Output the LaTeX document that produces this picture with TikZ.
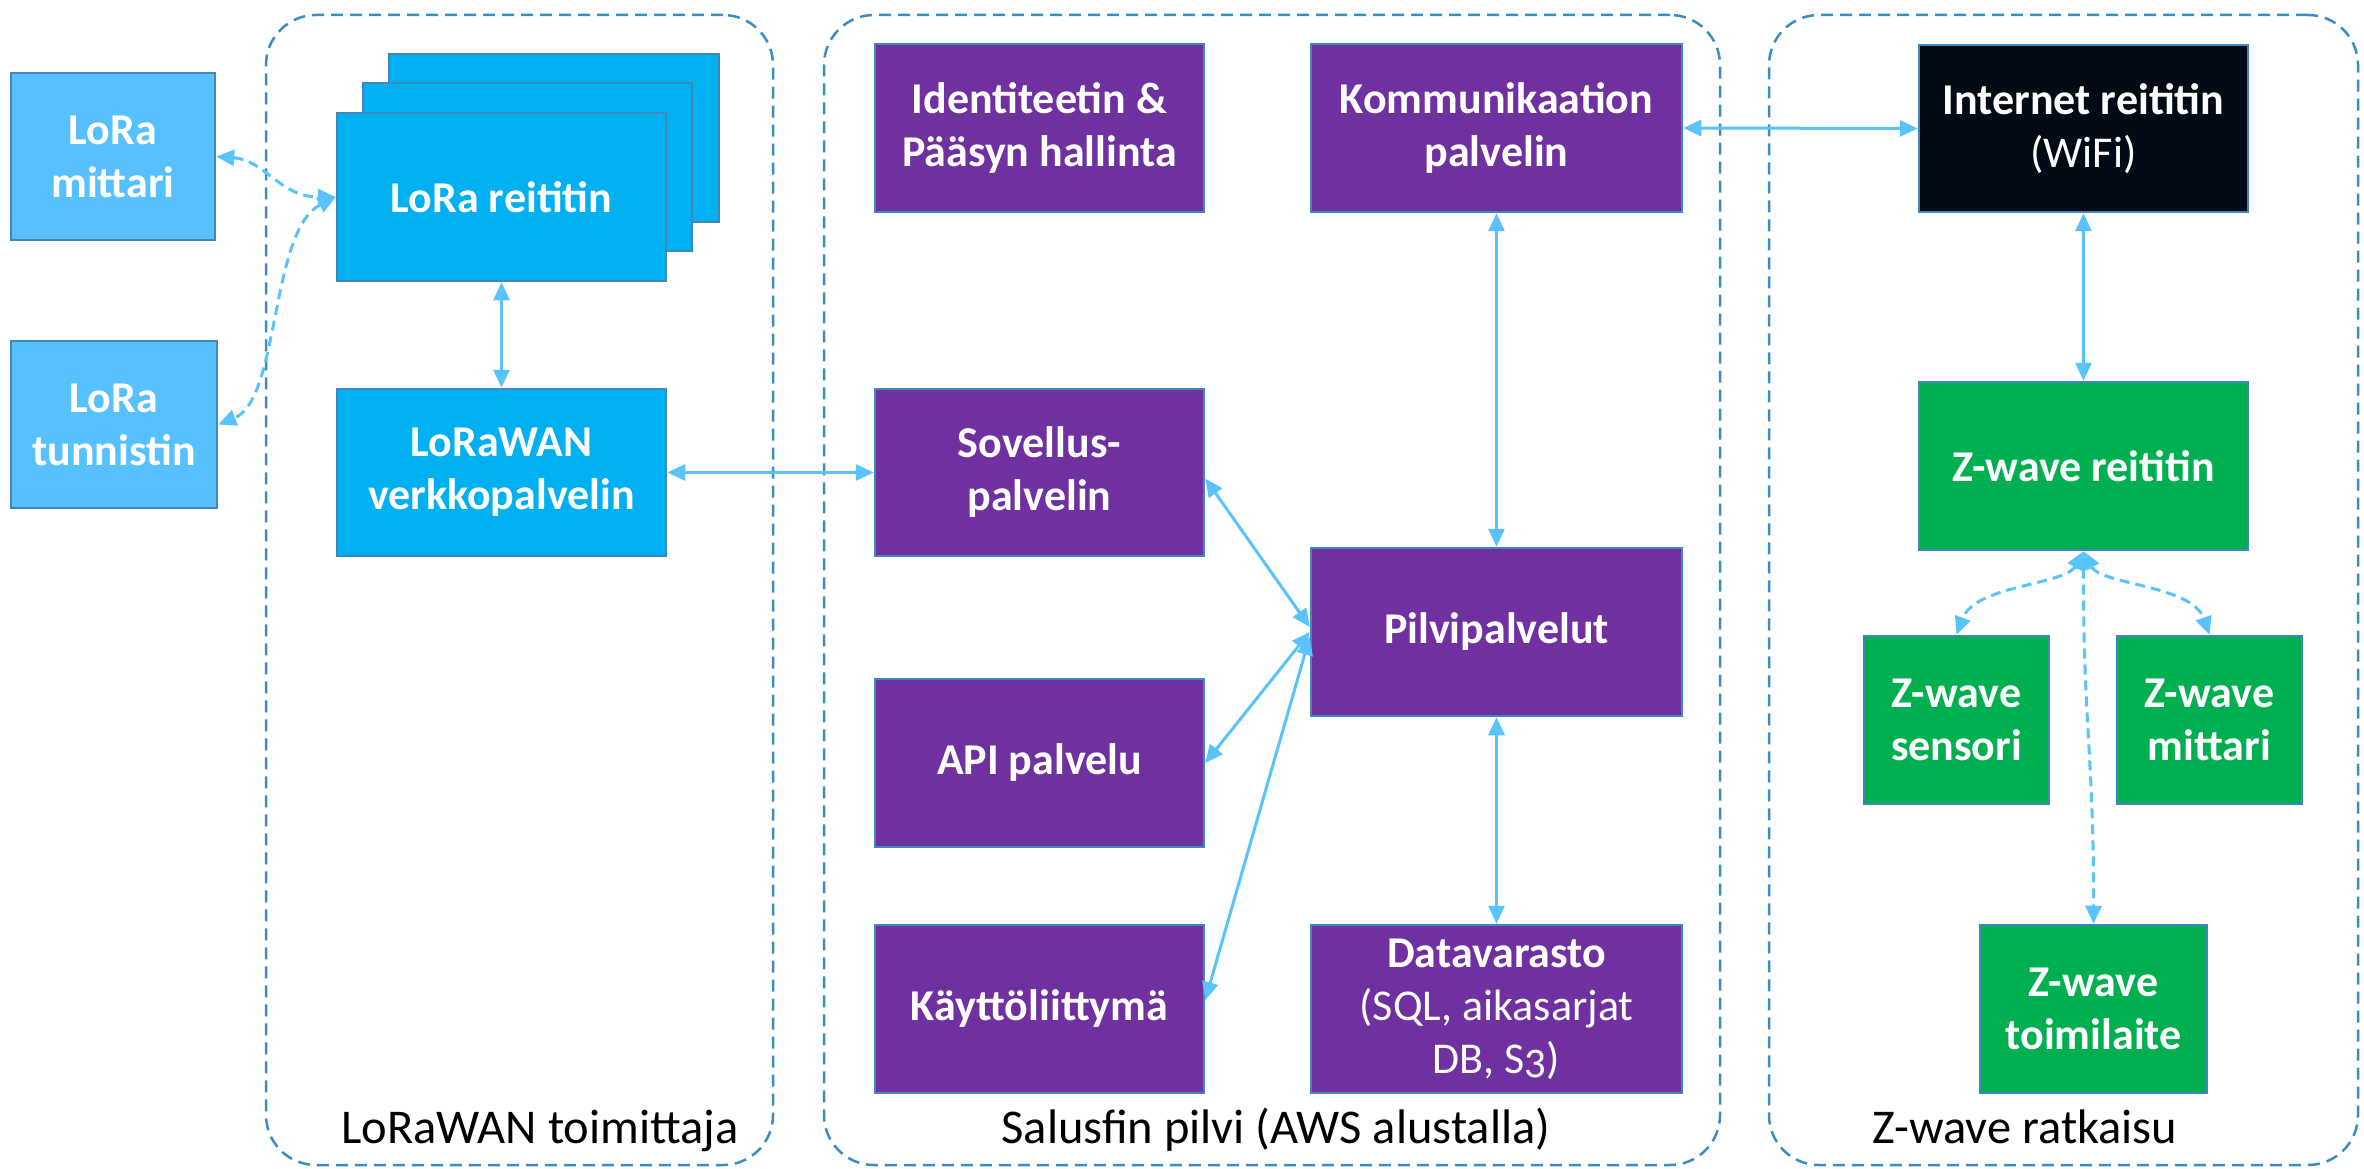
\documentclass[tikz,border=0pt]{standalone}
\usepackage{fontspec}
\setmainfont{Carlito}
\usetikzlibrary{arrows.meta}
\definecolor{lora}{HTML}{56C1FE}
\definecolor{lorar}{HTML}{00B0F0}
\definecolor{purp}{HTML}{7030A0}
\definecolor{grn}{HTML}{00B050}
\definecolor{inetc}{HTML}{020A16}
\definecolor{bordc}{HTML}{3F87BD}
\definecolor{grpc}{HTML}{3A8DC2}
\definecolor{conc}{HTML}{58C3FC}
\begin{document}
\begin{tikzpicture}[x=1pt,y=-1pt,
  box/.style={draw=bordc, line width=2.5pt, inner sep=0pt, align=center, text=white,
    font=\fontsize{44}{53}\selectfont\bfseries, minimum height=168pt},
  grp/.style={draw=grpc, line width=2.5pt, dash pattern=on 12pt off 7pt,
    rounded corners=50pt, minimum height=1150pt, inner sep=0pt},
  glabel/.style={font=\fontsize{48.5}{58}\selectfont, text=black, anchor=base, inner sep=0pt},
  conn/.style={draw=conc, line width=3pt,
    {Triangle[length=18pt,width=16pt]}-{Triangle[length=18pt,width=16pt]}},
  dconn/.style={conn, dash pattern=on 10pt off 6pt},
]
\useasboundingbox (0,0) rectangle (2364,1169);

% groups
\node[grp, minimum width=507pt] (g1) at (519.5,590) {};
\node[grp, minimum width=896pt] (g2) at (1272,590) {};
\node[grp, minimum width=589pt] (g3) at (2063.5,590) {};
\node[glabel] (g1l) at (540,1143) {LoRaWAN toimittaja};
\node[glabel] (g2l) at (1276,1143) {Salusfin pilvi (AWS alustalla)};
\node[glabel] (g3l) at (2025,1143) {Z-wave ratkaisu};

% LoRa side
\node[box, fill=lora, minimum width=204pt, minimum height=167pt] (mittari) at (113,156.5) {LoRa\\mittari};
\node[box, fill=lora, minimum width=206pt, minimum height=167pt] (tunn) at (114,424.5) {LoRa\\tunnistin};
\node[box, fill=lorar, minimum width=330pt] (lrback) at (554,138) {};
\node[box, fill=lorar, minimum width=329pt] (lrmid) at (527.5,167) {};
\node[box, fill=lorar, minimum width=329pt] (lrr) at (501.5,197) {LoRa reititin};
\node[box, fill=lorar, minimum width=329pt, minimum height=167pt] (lwan) at (501.5,472.5) {LoRaWAN\\verkkopalvelin};

% cloud
\node[box, fill=purp, minimum width=329pt] (ident) at (1039.5,128) {Identiteetin \&\\Pääsyn hallinta};
\node[box, fill=purp, minimum width=371pt] (komm) at (1496.5,128) {Kommunikaation\\palvelin};
\node[box, fill=purp, minimum width=329pt, minimum height=167pt] (sov) at (1039.5,472.5) {Sovellus-\\palvelin};
\node[box, fill=purp, minimum width=371pt] (pilvi) at (1496.5,632) {Pilvipalvelut};
\node[box, fill=purp, minimum width=329pt] (api) at (1039.5,763) {API palvelu};
\node[box, fill=purp, minimum width=329pt] (kayt) at (1039.5,1009) {Käyttöliittymä};
\node[box, fill=purp, minimum width=371pt] (data) at (1496.5,1009) {Datavarasto\\{\mdseries (SQL, aikasarjat}\\{\mdseries DB, S{\addfontfeatures{Numbers=OldStyle}3})}};

% Z-wave side
\node[box, fill=inetc, minimum width=329pt, minimum height=167pt] (inet) at (2083.5,128.5) {Internet reititin\\{\mdseries (WiFi)}};
\node[box, fill=grn, minimum width=329pt] (zr) at (2083.5,466) {Z-wave reititin};
\node[box, fill=grn, minimum width=185pt] (zs) at (1956.5,720) {Z-wave\\sensori};
\node[box, fill=grn, minimum width=185pt] (zm) at (2209.5,720) {Z-wave\\mittari};
\node[box, fill=grn, minimum width=227pt] (zt) at (2093.5,1009) {Z-wave\\toimilaite};

% connectors
\draw[dconn] (mittari.east) .. controls (265,160) and (280,197) .. (lrr.west);
\draw[dconn] (lrr.west) .. controls (270,230) and (280,400) .. (tunn.east);
\draw[conn] (lrr.south) -- (lwan.north);
\draw[conn] (lwan.east) -- (sov.west);
\draw[conn] (komm.east) -- (inet.west);
\draw[conn] (komm.south) -- (pilvi.north);
\draw[conn] (pilvi.south) -- (data.north);
\draw[conn] ([yshift=-6pt]sov.east) -- ([yshift=5pt]pilvi.west);
\draw[conn] (api.east) -- (pilvi.west);
\draw[conn] ([yshift=9pt]kayt.east) -- ([yshift=-5pt]pilvi.west);
\draw[conn] (inet.south) -- (zr.north);
\draw[dconn] (zr.south) .. controls (2065,585) and (1975,585) .. (zs.north);
\draw[dconn] (zr.south) .. controls (2101,585) and (2192,585) .. (zm.north);
\draw[dconn] (zr.south) .. controls (2083,720) and (2094,760) .. (zt.north);
\end{tikzpicture}
\end{document}
